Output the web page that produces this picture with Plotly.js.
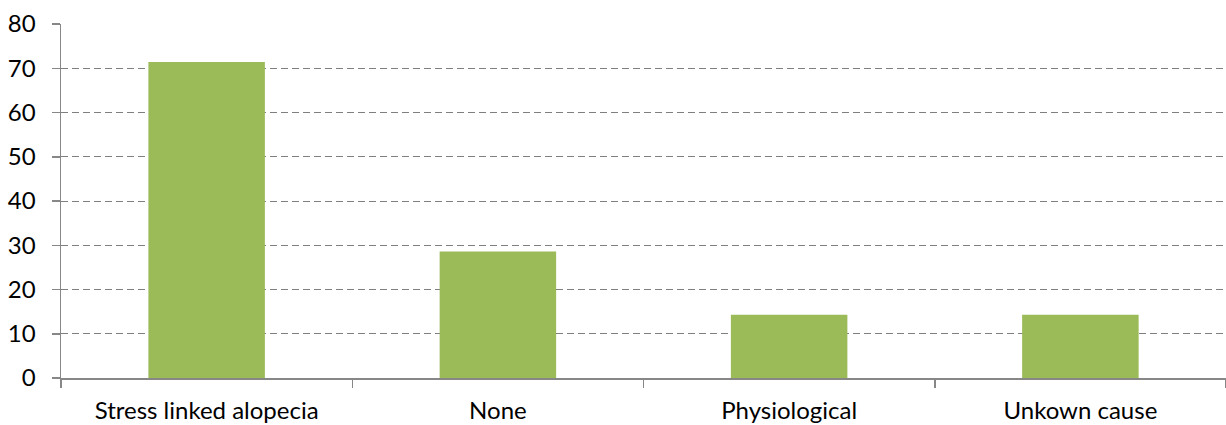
<!DOCTYPE html>
<html><head><meta charset="utf-8">
<script src="https://cdn.plot.ly/plotly-3.0.1.min.js"></script>
<style>html,body{margin:0;padding:0;background:#fff}#chart{width:1226px;height:425px}</style>
</head><body><div id="chart"></div>
<script>
const categories = ["Stress linked alopecia", "None", "Physiological", "Unkown cause"];
const values = [71.4, 28.6, 14.3, 14.3];
const yTicks = [0, 10, 20, 30, 40, 50, 60, 70, 80];

const trace = {
  type: "bar",
  x: categories,
  y: values,
  width: 0.4,
  marker: {color: "#9BBB59", line: {width: 0}},
  hoverinfo: "x+y"
};
const layout = {
  width: 1226, height: 425,
  margin: {l: 61, r: 0, t: 24, b: 47},
  paper_bgcolor: "#fff", plot_bgcolor: "#fff",
  showlegend: false,
  font: {family: "Lato, 'Open Sans', sans-serif", size: 24, color: "#000"},
  xaxis: {
    type: "category",
    tickson: "boundaries",
    ticks: "outside", ticklen: 8, tickcolor: "#878787", tickwidth: 1.5,
    showline: true, linecolor: "#878787", linewidth: 1.5,
    showgrid: false, zeroline: false,
    range: [-0.5, 3.5],
    ticklabelstandoff: 11,
    tickfont: {size: 24}
  },
  yaxis: {
    range: [0, 80],
    tickvals: yTicks,
    ticks: "outside", ticklen: 8, tickcolor: "#878787", tickwidth: 1.5,
    showline: true, linecolor: "#878787", linewidth: 1.5,
    showgrid: true, gridcolor: "#7f7f7f", gridwidth: 1, griddash: "7px,4px",
    zeroline: false,
    ticklabelstandoff: 11,
    tickfont: {size: 24}
  },
  bargap: 0.6
};
Plotly.newPlot("chart", [trace], layout, {displayModeBar: false, staticPlot: true});
</script></body></html>
